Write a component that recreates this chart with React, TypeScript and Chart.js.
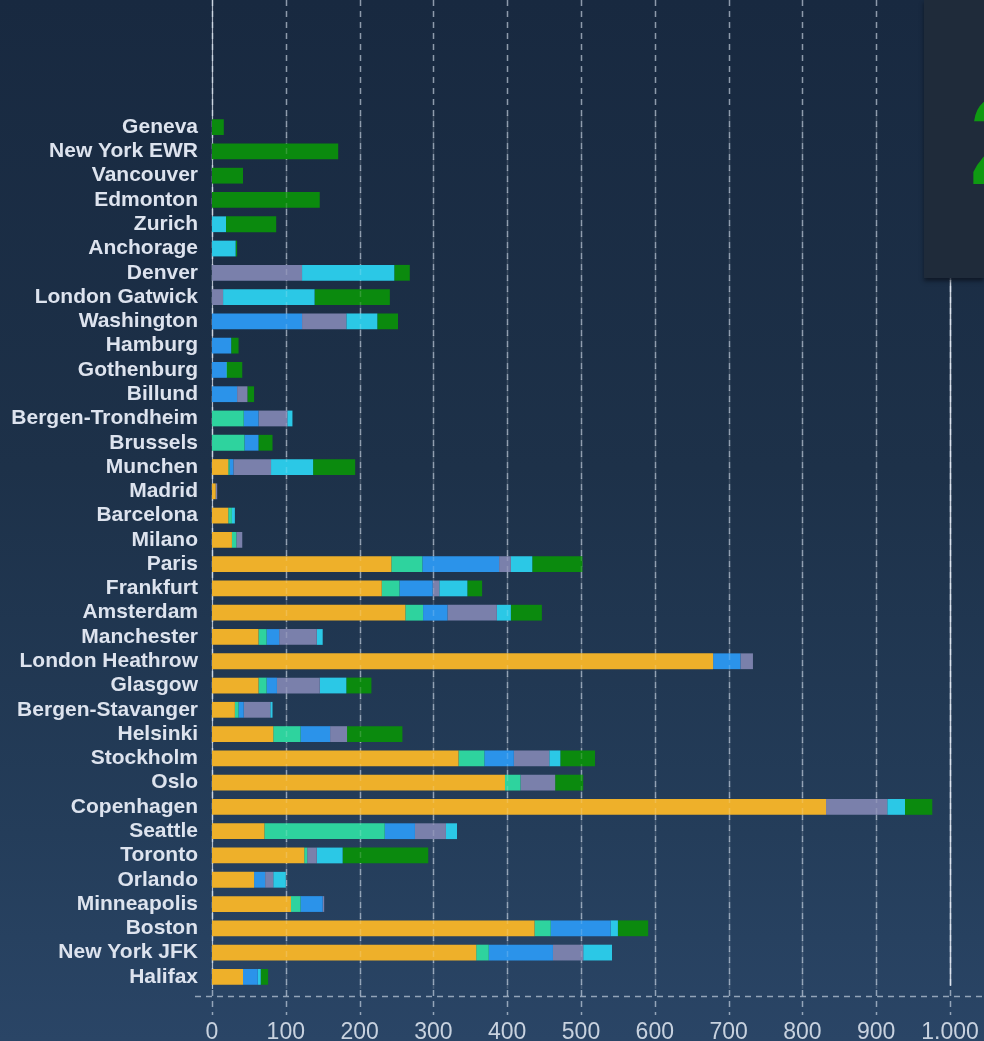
import React, { useEffect, useRef } from 'react';
import { Chart, registerables } from 'chart.js';

Chart.register(...registerables);

const categories = [
  'Geneva', 'New York EWR', 'Vancouver', 'Edmonton', 'Zurich', 'Anchorage', 'Denver',
  'London Gatwick', 'Washington', 'Hamburg', 'Gothenburg', 'Billund', 'Bergen-Trondheim',
  'Brussels', 'Munchen', 'Madrid', 'Barcelona', 'Milano', 'Paris', 'Frankfurt', 'Amsterdam',
  'Manchester', 'London Heathrow', 'Glasgow', 'Bergen-Stavanger', 'Helsinki', 'Stockholm',
  'Oslo', 'Copenhagen', 'Seattle', 'Toronto', 'Orlando', 'Minneapolis', 'Boston',
  'New York JFK', 'Halifax',
];

const seriesYellow = [0, 0, 0, 0, 0, 0, 0, 0, 0, 0, 0, 0, 0, 0, 22, 5, 22, 27, 243, 230, 262, 63, 679, 63, 31, 83, 334, 397, 832, 71, 125, 57, 107, 437, 358, 42];
const seriesTeal = [0, 0, 0, 0, 0, 0, 0, 0, 0, 0, 0, 0, 43, 44, 2, 0, 5, 6, 42, 24, 24, 11, 0, 11, 5, 37, 35, 21, 0, 163, 4, 0, 13, 22, 17, 0];
const seriesBlue = [0, 0, 0, 0, 0, 0, 0, 0, 122, 26, 19, 34, 20, 19, 5, 0, 0, 0, 104, 45, 33, 17, 37, 14, 7, 40, 40, 0, 0, 41, 0, 15, 30, 81, 87, 20];
const seriesSlate = [0, 0, 0, 0, 0, 0, 122, 15, 60, 0, 0, 14, 39, 0, 51, 2, 0, 8, 16, 9, 67, 51, 17, 58, 36, 23, 48, 47, 83, 42, 13, 11, 2, 0, 41, 0];
const seriesCyan = [0, 0, 0, 0, 19, 32, 125, 124, 42, 0, 1, 0, 7, 0, 57, 0, 4, 0, 29, 38, 19, 8, 0, 36, 3, 0, 15, 0, 24, 15, 35, 17, 0, 10, 39, 4];
const seriesGreen = [16, 171, 42, 146, 68, 2, 21, 102, 28, 10, 21, 9, 0, 19, 57, 0, 0, 0, 68, 20, 42, 0, 0, 34, 0, 75, 47, 38, 37, 0, 116, 0, 0, 41, 0, 10];

const seriesNames = ['Segment 1', 'Segment 2', 'Segment 3', 'Segment 4', 'Segment 5', 'Segment 6'];
const seriesColors = ['#eeb02a', '#2ed39e', '#2b93ea', '#7a80ab', '#2bc8e6', '#0b8a0e'];

const tickValues = [0, 100, 200, 300, 400, 500, 600, 700, 800, 900, 1000];
const tickLabels = ['0', '100', '200', '300', '400', '500', '600', '700', '800', '900', '1.000'];

const gridPlugin = {
  id: 'customGrid',
  beforeDatasetsDraw(chart: any) {
    const ctx = chart.ctx;
    const xs = chart.scales.x;
    const area = chart.chartArea;
    ctx.save();
    ctx.strokeStyle = 'rgba(215,225,238,0.62)';
    ctx.lineWidth = 1.5;
    ctx.setLineDash([6, 5]);
    tickValues.forEach((v) => {
      const px = Math.round(xs.getPixelForValue(v)) + 0.5;
      ctx.beginPath();
      ctx.moveTo(px, 0);
      ctx.lineTo(px, area.bottom + 26);
      ctx.stroke();
    });
    const ay = Math.round(area.bottom + 7) + 0.5;
    ctx.beginPath();
    ctx.moveTo(area.left - 17, ay);
    ctx.lineTo(chart.width, ay);
    ctx.stroke();
    ctx.setLineDash([]);
    ctx.strokeStyle = 'rgba(225,232,242,0.75)';
    ctx.lineWidth = 1.2;
    const x0 = Math.round(xs.getPixelForValue(0)) + 0.5;
    ctx.beginPath();
    ctx.moveTo(x0, 0);
    ctx.lineTo(x0, area.bottom);
    ctx.stroke();
    const x1 = Math.round(xs.getPixelForValue(1000)) + 0.5;
    ctx.strokeStyle = 'rgba(235,240,248,0.85)';
    ctx.lineWidth = 1.5;
    ctx.beginPath();
    ctx.moveTo(x1, 280);
    ctx.lineTo(x1, area.bottom - 3);
    ctx.stroke();
    ctx.restore();
  },
  afterDatasetsDraw(chart: any) {
    const ctx = chart.ctx;
    const xs = chart.scales.x;
    const area = chart.chartArea;
    ctx.save();
    ctx.strokeStyle = 'rgba(255,255,255,0.16)';
    ctx.lineWidth = 1.5;
    ctx.setLineDash([6, 5]);
    tickValues.slice(1, -1).forEach((v) => {
      const px = Math.round(xs.getPixelForValue(v)) + 0.5;
      ctx.beginPath();
      ctx.moveTo(px, area.top);
      ctx.lineTo(px, area.bottom);
      ctx.stroke();
    });
    ctx.restore();
  },
};

export default function App() {
  const canvasRef = useRef<HTMLCanvasElement | null>(null);

  useEffect(() => {
    if (!canvasRef.current) return;
    const allSeries = [seriesYellow, seriesTeal, seriesBlue, seriesSlate, seriesCyan, seriesGreen];
    const chart = new Chart(canvasRef.current, {
      type: 'bar',
      data: {
        labels: categories,
        datasets: allSeries.map((d, i) => ({
          label: seriesNames[i],
          data: d,
          backgroundColor: seriesColors[i],
          borderWidth: 0,
          barPercentage: 0.65,
          categoryPercentage: 1,
        })),
      },
      options: {
        indexAxis: 'y',
        animation: false,
        responsive: true,
        maintainAspectRatio: false,
        layout: { padding: { left: 0, right: 34, top: 115, bottom: 0 } },
        plugins: {
          legend: { display: false },
          tooltip: { enabled: false },
        },
        scales: {
          x: {
            type: 'linear',
            stacked: true,
            min: 0,
            max: 1000,
            afterFit: (scale: any) => {
              scale.height = 52;
              scale.paddingLeft = 0;
              scale.paddingRight = 0;
            },
            afterBuildTicks: (scale: any) => {
              scale.ticks = tickValues.map((v) => ({ value: v }));
            },
            grid: { display: false, drawTicks: false },
            border: { display: false },
            ticks: {
              padding: 30,
              color: '#c8d2df',
              font: { family: '"Liberation Sans", Arial, sans-serif', size: 23 },
              maxRotation: 0,
              autoSkip: false,
              callback: (value: any) => {
                const i = tickValues.indexOf(Number(value));
                return i >= 0 ? tickLabels[i] : '';
              },
            },
          },
          y: {
            stacked: true,
            afterFit: (scale: any) => {
              scale.width = 212;
            },
            grid: { display: false, drawTicks: false },
            border: { display: false },
            ticks: {
              padding: 14,
              color: '#dde3ee',
              autoSkip: false,
              font: { family: '"Liberation Sans", Arial, sans-serif', size: 21, weight: 'bold' },
            },
          },
        },
      },
      plugins: [gridPlugin],
    } as any);
    return () => chart.destroy();
  }, []);

  const panelStyle: React.CSSProperties = {
    position: 'absolute',
    left: 924,
    top: 0,
    width: 60,
    height: 278,
    overflow: 'hidden',
    background: '#1f2b3a',
    boxShadow: '0 3px 4px rgba(10,15,25,0.7)',
  };
  const digitStyle: React.CSSProperties = {
    position: 'absolute',
    left: 45,
    top: 78,
    fontFamily: '"Liberation Sans", Arial, sans-serif',
    fontWeight: 'bold',
    fontSize: 126,
    lineHeight: 1,
    color: '#0f9a12',
  };

  return (
    <div
      style={{
        position: 'fixed',
        left: 0,
        top: 0,
        width: 984,
        height: 1041,
        overflow: 'hidden',
        background: 'linear-gradient(to bottom, #182940 0%, #1d3149 45%, #243d5a 80%, #2a4566 100%)',
      }}
    >
      <canvas ref={canvasRef} style={{ position: 'absolute', left: 0, top: 0, width: 984, height: 1041 }} />
      <div style={panelStyle}>
        <div style={digitStyle}>2</div>
      </div>
    </div>
  );
}
